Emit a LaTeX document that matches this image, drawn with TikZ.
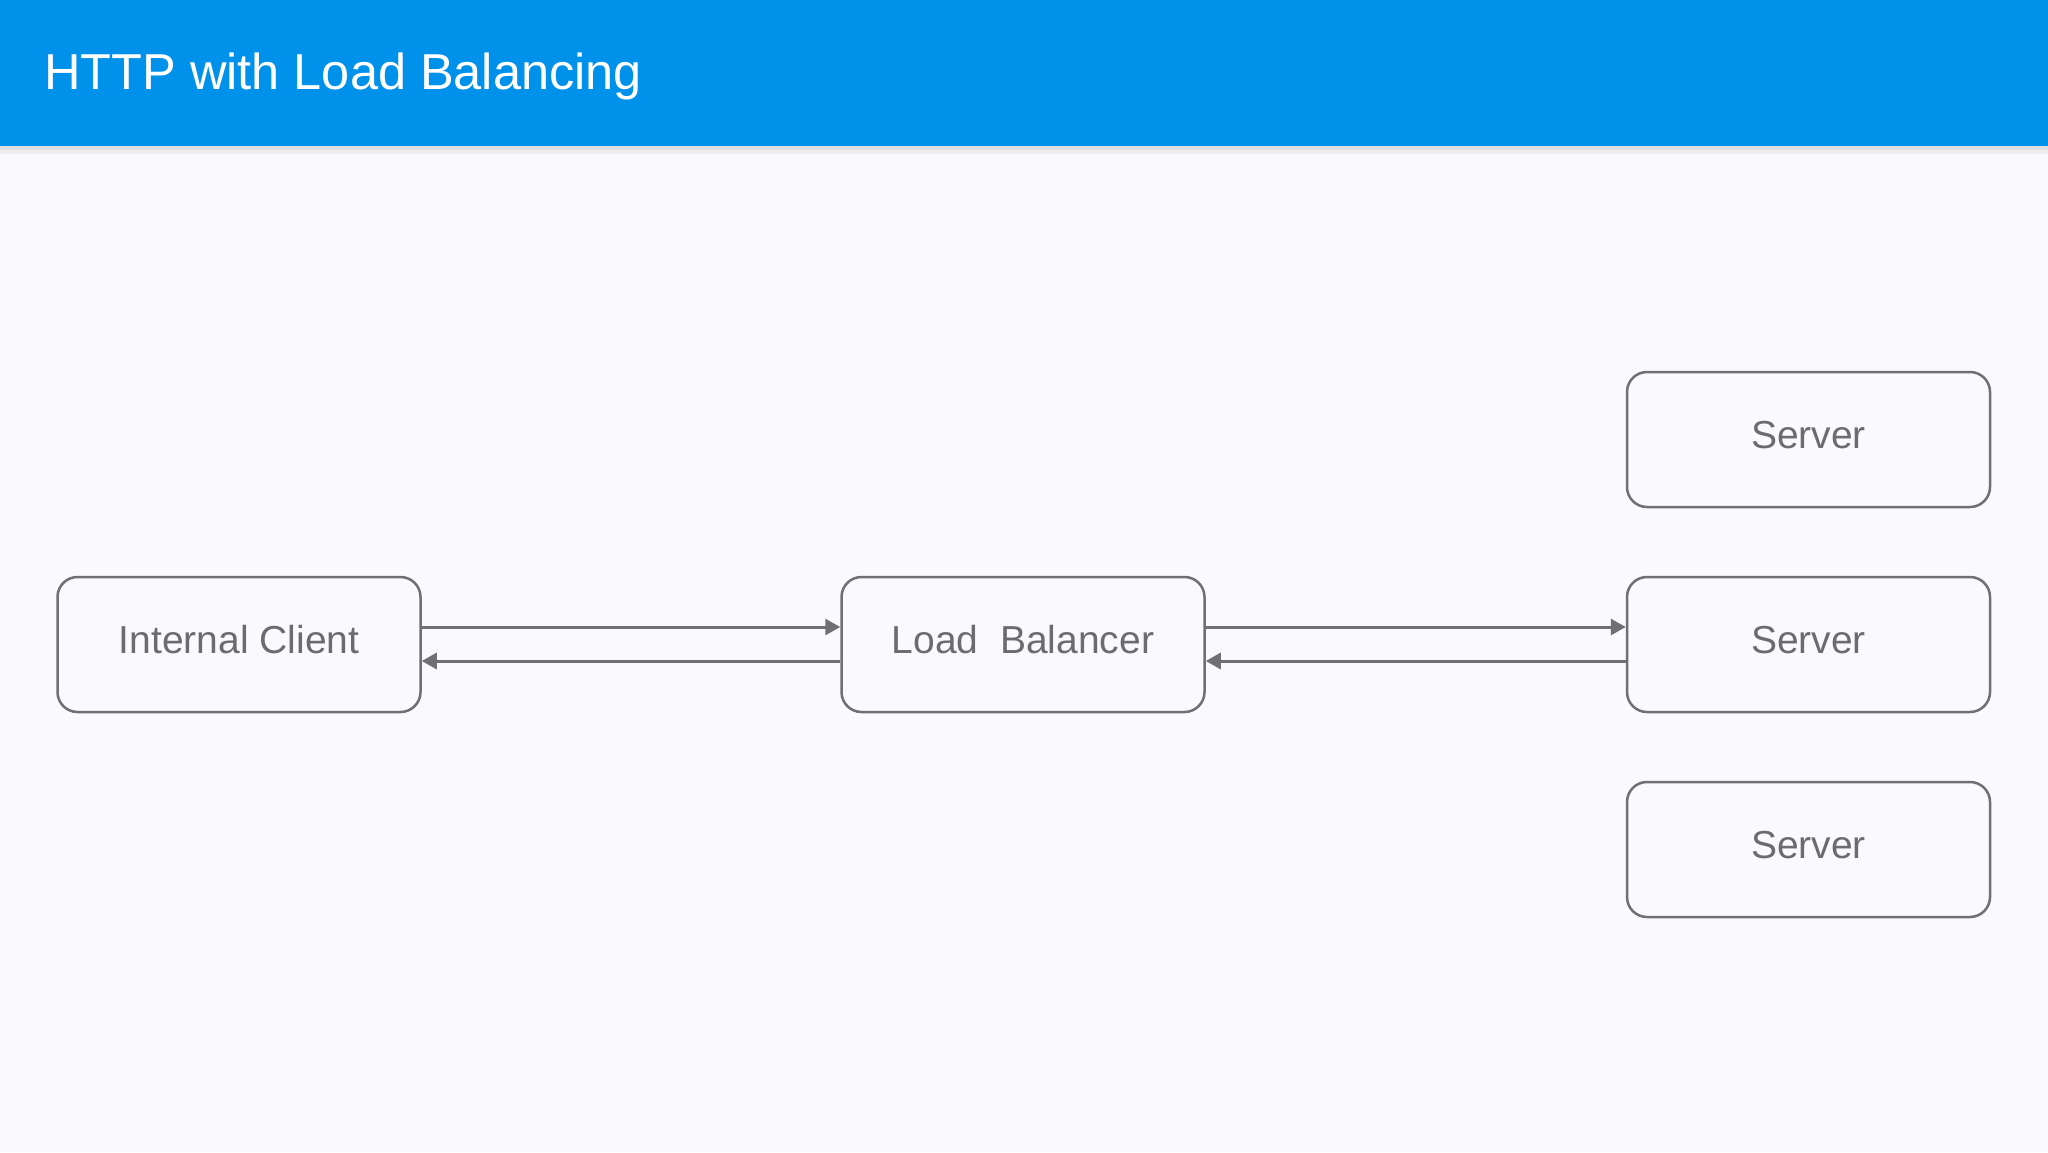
\documentclass[tikz,border=0pt]{standalone}
\usepackage{fontspec}
\setmainfont{Liberation Sans}
\usetikzlibrary{arrows.meta}
\definecolor{hdr}{RGB}{0,145,234}
\definecolor{bg}{RGB}{250,249,251}
\definecolor{ln}{RGB}{112,111,116}
\definecolor{tx}{RGB}{108,107,112}
\begin{document}
\begin{tikzpicture}[x=1pt,y=-1pt,
  box/.style={draw=ln, line width=2.5pt, rounded corners=20pt, minimum width=363pt,
    minimum height=135pt, inner sep=0pt, fill=bg, text=tx,
    font=\fontsize{39}{39}\selectfont, text height=28pt, text depth=11pt},
  conn/.style={draw=ln, line width=3pt, -{Triangle[length=15pt,width=16pt]}}]
\useasboundingbox (0,0) rectangle (2048,1152);
\fill[bg] (0,0) rectangle (2048,1152);
% header shadow
\fill[black,opacity=0.05] (0,146) rectangle (2048,154);
\fill[black,opacity=0.06] (0,146) rectangle (2048,150);
\fill[hdr] (0,0) rectangle (2048,146);
\node[anchor=base west, text=white, font=\fontsize{50.5}{50.5}\selectfont, inner sep=0pt]
  (title) at (44,89) {HTTP with Load Balancing};
% boxes
\node[box] (client) at (239,644.5) {Internal Client};
\node[box] (lb) at (1023,644.5) {Load~ Balancer};
\node[box] (s1) at (1808.5,439.5) {Server};
\node[box] (s2) at (1808.5,644.5) {Server};
\node[box] (s3) at (1808.5,849.5) {Server};
% connectors
\draw[conn] ([yshift=17.5pt]client.east) -- ([yshift=17.5pt]lb.west);
\draw[conn] ([yshift=-16.5pt]lb.west) -- ([yshift=-16.5pt]client.east);
\draw[conn] ([yshift=17.5pt]lb.east) -- ([yshift=17.5pt]s2.west);
\draw[conn] ([yshift=-16.5pt]s2.west) -- ([yshift=-16.5pt]lb.east);
\end{tikzpicture}
\end{document}
